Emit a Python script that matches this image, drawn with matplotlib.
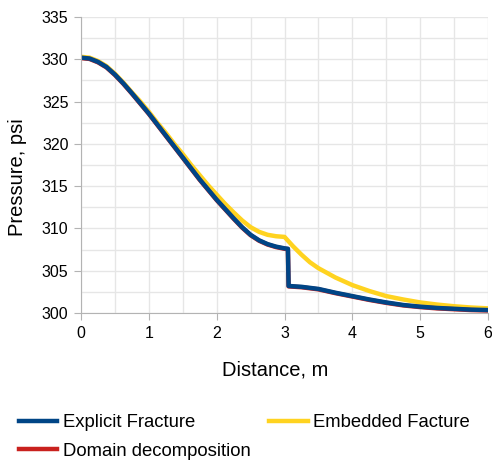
import matplotlib.pyplot as plt
from matplotlib.ticker import MultipleLocator

plt.rcParams['font.family'] = ['Liberation Sans', 'DejaVu Sans']

# Distance, m
explicit_x = [0, 0.125, 0.25, 0.375, 0.5, 0.625, 0.75, 0.875, 1.0, 1.125, 1.25, 1.375, 1.5,
              1.625, 1.75, 1.875, 2.0, 2.125, 2.25, 2.375, 2.5, 2.625, 2.75, 2.875, 3.0,
              3.05, 3.06, 3.25, 3.5, 3.75, 4.0, 4.25, 4.5, 4.75, 5.0, 5.25, 5.5, 5.75, 6.0]
# Pressure, psi
explicit = [330.2, 330.1, 329.7, 329.1, 328.2, 327.15, 326.0, 324.8, 323.6, 322.3, 321.0, 319.7, 318.4,
            317.1, 315.8, 314.6, 313.4, 312.3, 311.2, 310.15, 309.25, 308.6, 308.15, 307.85, 307.65,
            307.6, 303.2, 303.1, 302.85, 302.4, 302.0, 301.6, 301.25, 300.95, 300.75, 300.6, 300.5, 300.4, 300.35]
domain = [330.15, 330.05, 329.65, 329.05, 328.15, 327.1, 325.95, 324.75, 323.55, 322.25, 320.95, 319.65, 318.35,
          317.05, 315.75, 314.55, 313.35, 312.25, 311.15, 310.1, 309.2, 308.55, 308.1, 307.8, 307.6,
          307.55, 303.15, 303.05, 302.8, 302.35, 301.95, 301.55, 301.2, 300.9, 300.7, 300.55, 300.45, 300.35, 300.3]

embedded_x = [0, 0.125, 0.25, 0.375, 0.5, 0.625, 0.75, 0.875, 1.0, 1.125, 1.25, 1.375, 1.5,
              1.625, 1.75, 1.875, 2.0, 2.125, 2.25, 2.375, 2.5, 2.625, 2.75, 2.875, 3.0,
              3.125, 3.25, 3.375, 3.5, 3.75, 4.0, 4.25, 4.5, 4.75, 5.0, 5.25, 5.5, 5.75, 6.0]
embedded = [330.3, 330.2, 329.8, 329.2, 328.3, 327.25, 326.1, 325.0, 323.8, 322.5, 321.3, 320.0, 318.8,
            317.5, 316.3, 315.1, 314.0, 312.9, 311.9, 310.95, 310.15, 309.6, 309.25, 309.08, 309.0,
            307.9, 306.9, 306.0, 305.3, 304.2, 303.3, 302.6, 302.0, 301.6, 301.25, 301.0, 300.8, 300.65, 300.55]

fig = plt.figure(figsize=(4.92, 4.61), dpi=100)
ax = fig.add_axes([0.1646, 0.321, 0.8274, 0.642])

l_emb, = ax.plot(embedded_x, embedded, color='#ffd320', lw=3.2, label='Embedded Facture')
l_dom, = ax.plot(explicit_x, domain, color='#c9211e', lw=3.2, label='Domain decomposition')
l_exp, = ax.plot(explicit_x, explicit, color='#004586', lw=3.2, label='Explicit Fracture')

ax.set_xlim(0, 6)
ax.set_ylim(300, 335)
ax.xaxis.set_major_locator(MultipleLocator(1))
ax.xaxis.set_minor_locator(MultipleLocator(0.5))
ax.yaxis.set_major_locator(MultipleLocator(5))
ax.yaxis.set_minor_locator(MultipleLocator(2.5))
ax.grid(True, which='both', color='#e6e6e6', lw=1)
ax.set_axisbelow(True)

for s in ['top', 'right']:
    ax.spines[s].set_visible(False)
for s in ['left', 'bottom']:
    ax.spines[s].set_color('#b3b3b3')
ax.tick_params(which='major', length=5, color='#b3b3b3', labelsize=11.5, pad=4)
ax.tick_params(which='minor', length=0)

ax.set_xlabel('Distance, m', fontsize=14.5)
ax.set_ylabel('Pressure, psi', fontsize=14.5)
ax.xaxis.set_label_coords(0.477, -0.16)
ax.yaxis.set_label_coords(-0.133, 0.46)

# column-major fill: row 1 = Explicit / Embedded, row 2 = Domain
fig.legend(handles=[l_exp, l_dom, l_emb], loc='upper left', bbox_to_anchor=(0.004, 0.137),
           ncol=2, frameon=False, fontsize=13.3, handlelength=2.1, columnspacing=1.0,
           handletextpad=0.3, labelspacing=0.6)

fig.savefig('out.png', dpi=100)
